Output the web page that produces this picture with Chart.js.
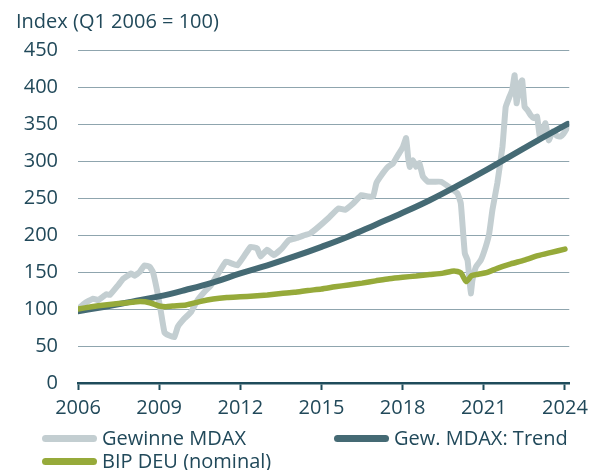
<!DOCTYPE html>
<html lang="de">
<head>
<meta charset="utf-8">
<script src="https://cdn.jsdelivr.net/npm/chart.js@4"></script>
<style>
  html, body { margin: 0; padding: 0; background: #fff; }
  body { width: 594px; height: 470px; position: relative; overflow: hidden; font-family: 'Open Sans', sans-serif; color: #21495a; }
  #titel { position: absolute; left: 16px; top: 8px; font-size: 20px; line-height: 26px; white-space: nowrap; }
  #wrap { position: absolute; left: 0; top: 0; width: 594px; height: 470px; }
  .leg { position: absolute; font-size: 20px; line-height: 24px; white-space: nowrap; display: flex; align-items: center; }
  .leg i { display: inline-block; width: 55px; height: 7px; border-radius: 4px; margin-right: 5px; }
</style>
</head>
<body>
<div id="wrap"><canvas id="chart" width="594" height="470"></canvas></div>
<div id="titel">Index (Q1 2006 = 100)</div>
<div id="legende"></div>
<script>
// Achse
const xTicks = [2006, 2009, 2012, 2015, 2018, 2021, 2024];

// Gewinne MDAX
const gewJahre = [2006.0, 2006.26, 2006.56, 2006.75, 2007.05, 2007.18, 2007.48, 2007.67, 2007.97, 2008.09,
  2008.28, 2008.46, 2008.65, 2008.77, 2008.95, 2009.07, 2009.2, 2009.38, 2009.56, 2009.69,
  2009.93, 2010.18, 2010.42, 2010.67, 2010.91, 2011.15, 2011.46, 2011.65, 2011.89, 2012.13,
  2012.38, 2012.62, 2012.75, 2012.99, 2013.24, 2013.54, 2013.79, 2014.09, 2014.4, 2014.58,
  2014.89, 2015.26, 2015.63, 2015.87, 2016.18, 2016.48, 2016.73, 2016.91, 2017.03, 2017.22,
  2017.46, 2017.65, 2017.83, 2018.01, 2018.13, 2018.2, 2018.26, 2018.38, 2018.5, 2018.62,
  2018.75, 2018.93, 2019.18, 2019.42, 2019.79, 2020.03, 2020.15, 2020.22, 2020.3, 2020.4,
  2020.46, 2020.52, 2020.58, 2020.71, 2020.89, 2021.07, 2021.2, 2021.32, 2021.5, 2021.69,
  2021.81, 2021.93, 2022.05, 2022.14, 2022.21, 2022.34, 2022.42, 2022.51, 2022.61, 2022.73,
  2022.85, 2022.97, 2023.07, 2023.16, 2023.28, 2023.4, 2023.55, 2023.7, 2023.83, 2023.95, 2024.1];
const gewWerte = [100, 108, 114, 112, 120, 119, 132, 141, 148, 145,
  150, 159, 157, 150, 120, 95, 68, 64, 62, 76,
  87, 96, 112, 123, 132, 146, 164, 162, 159, 171,
  184, 182, 171, 180, 173, 182, 193, 196, 200, 202,
  211, 223, 236, 234, 243, 254, 252, 252, 270, 281,
  292, 297, 308, 319, 331, 306, 292, 301, 292, 297,
  279, 272, 272, 272, 263, 256, 243, 211, 175, 166,
  144, 121, 139, 157, 166, 184, 202, 234, 270, 319,
  373, 385, 396, 416, 378, 405, 409, 373, 369, 362,
  358, 360, 333, 342, 351, 328, 340, 334, 333, 337, 346];

// Gew. MDAX: Trend
const trendJahre = [2006, 2007, 2008, 2009, 2010, 2011, 2012, 2013, 2014, 2015,
  2016, 2017, 2018, 2019, 2020, 2021, 2022, 2023, 2024, 2024.1];
const trendWerte = [97, 103, 110, 117, 126, 136, 148, 159, 171, 184,
  198, 214, 230, 247, 266, 286, 307, 328, 348, 350];

// BIP DEU (nominal)
const bipJahre = [2006.0, 2006.5, 2007.0, 2007.5, 2008.0, 2008.3, 2008.65, 2009.0, 2009.25, 2009.5,
  2010.0, 2010.5, 2011.0, 2011.5, 2012.0, 2012.5, 2013.0, 2013.5, 2014.0, 2014.5,
  2015.0, 2015.5, 2016.0, 2016.5, 2017.0, 2017.5, 2018.0, 2018.5, 2019.0, 2019.5,
  2019.9, 2020.15, 2020.35, 2020.55, 2020.8, 2021.1, 2021.5, 2022.0, 2022.5, 2023.0, 2023.5, 2024.0];
const bipWerte = [100, 103, 105.5, 107.5, 109, 110, 108.5, 104, 103, 104,
  105.5, 110, 113.5, 115.5, 116.5, 117.5, 119, 121, 122.5, 125,
  127, 130, 132.5, 135, 138, 141, 143, 144.5, 146.5, 148.5,
  151.5, 149, 137, 145, 147, 149, 155, 161, 166, 172, 176.5, 181];

const C = { text: '#21495a', achse: '#1f4c5b', gitter: '#8fa5ae', grau: '#c3ced1', trend: '#456a74', gruen: '#96aa3a' };

const punkte = (xs, ys) => xs.map((x, i) => ({ x, y: ys[i] }));

// Legende (HTML, feste Positionen wie im Original)
const legItems = [
  { text: 'Gewinne MDAX', farbe: C.grau, left: 42, top: 426 },
  { text: 'Gew. MDAX: Trend', farbe: C.trend, left: 334, top: 426 },
  { text: 'BIP DEU (nominal)', farbe: C.gruen, left: 42, top: 449 },
];
document.getElementById('legende').innerHTML = legItems.map(l =>
  `<div class="leg" style="left:${l.left}px;top:${l.top}px"><i style="background:${l.farbe}"></i>${l.text}</div>`).join('');

Chart.defaults.font.family = "'Open Sans', sans-serif";
Chart.defaults.font.size = 20;
Chart.defaults.color = C.text;

new Chart(document.getElementById('chart'), {
  type: 'line',
  data: {
    datasets: [
      { label: 'BIP DEU (nominal)', data: punkte(bipJahre, bipWerte), borderColor: C.gruen, borderWidth: 5.5,
        tension: 0.2, pointRadius: 0, order: 1, borderCapStyle: 'round', borderJoinStyle: 'round' },
      { label: 'Gew. MDAX: Trend', data: punkte(trendJahre, trendWerte), borderColor: C.trend, borderWidth: 6,
        tension: 0.4, pointRadius: 0, order: 2, borderCapStyle: 'round' },
      { label: 'Gewinne MDAX', data: punkte(gewJahre, gewWerte), borderColor: C.grau, borderWidth: 6,
        tension: 0.1, pointRadius: 0, order: 3, borderCapStyle: 'round', borderJoinStyle: 'round' },
    ]
  },
  options: {
    responsive: false, animation: false,
    layout: { padding: { top: 50, right: 21, left: 0, bottom: 0 } },
    plugins: { legend: { display: false }, tooltip: { enabled: false } },
    scales: {
      x: {
        type: 'linear', min: 2006, max: 2024.16,
        afterBuildTicks: axis => { axis.ticks = xTicks.map(v => ({ value: v })); },
        afterFit: axis => { axis.height = 87; },
        grid: { drawOnChartArea: false, drawTicks: true, tickLength: 7, tickColor: C.achse, tickWidth: 2 },
        border: { display: true, color: C.achse, width: 2.5 },
        ticks: { padding: 6, maxRotation: 0, autoSkip: false, callback: v => String(v), color: C.text }
      },
      y: {
        min: 0, max: 450,
        afterFit: axis => { axis.width = 78; },
        ticks: { stepSize: 50, padding: 20, color: C.text },
        grid: { drawTicks: false, lineWidth: 1, color: c => c.tick && c.tick.value === 0 ? 'rgba(0,0,0,0)' : C.gitter },
        border: { display: false }
      }
    }
  }
});
</script>
</body>
</html>
